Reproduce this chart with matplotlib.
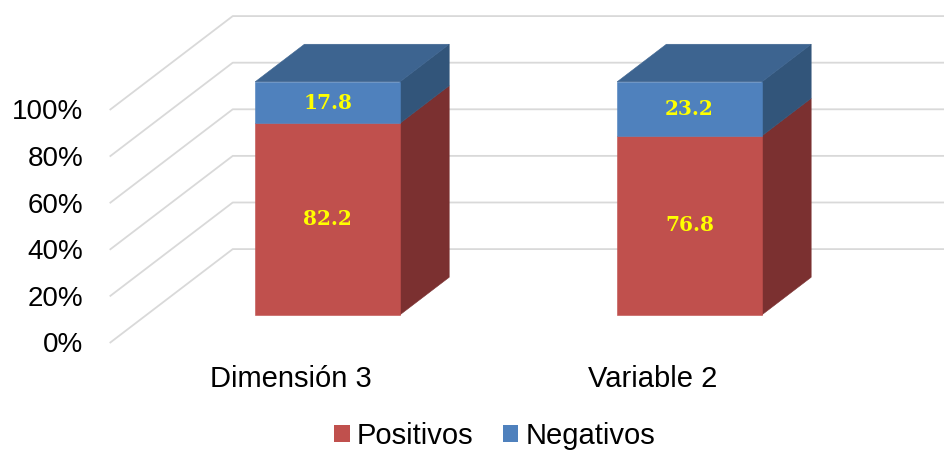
import matplotlib.pyplot as plt
from matplotlib.patches import Polygon, Patch

categories = ['Dimensión 3', 'Variable 2']
positivos = [82.2, 76.8]
negativos = [17.8, 23.2]
y_ticks = [0, 20, 40, 60, 80, 100]
series_names = ['Positivos', 'Negativos']

# colours: front, side, top
red = ('#C0504D', '#7B3030', '#8E3A38')
blue = ('#4F81BD', '#32557A', '#3D6490')

# oblique 3d projection: shift of the back wall in data units
DX, DY = 0.34, 40.3
BAR_W = 0.4
D0, D1 = 0.3, 0.7   # bar depth range

def proj(x, y, d):
    return (x + d * DX, y + d * DY)

fig = plt.figure(figsize=(9.44, 4.51), dpi=100)
ax = fig.add_axes([0, 0, 1, 1])
ax.set_xlim(-0.803, 1.805)
ax.set_ylim(-46.35, 147.2)
ax.axis('off')

# gridlines along left wall and back wall
for p in y_ticks:
    x0, y0 = proj(-0.5, p, 0)
    x1, y1 = proj(-0.5, p, 1)
    x2, y2 = proj(1.5, p, 1)
    ax.plot([x0, x1, x2], [y0, y1, y2], color='#D9D9D9', lw=1.3,
            solid_capstyle='butt', zorder=1)
    ax.text(-0.5 - 0.072, p - 1.0, f'{p}%', ha='right', va='center',
            fontsize=20, family='Liberation Sans', color='#000000')

def face(pts, color, z):
    ax.add_patch(Polygon(pts, closed=True, facecolor=color, edgecolor=color,
                         lw=0.4, zorder=z))

for i, cat in enumerate(categories):
    xl, xr = i - BAR_W / 2, i + BAR_W / 2
    segs = [(0, positivos[i], red), (positivos[i], positivos[i] + negativos[i], blue)]
    for b, t, col in segs:
        # right side face
        face([proj(xr, b, D0), proj(xr, b, D1), proj(xr, t, D1), proj(xr, t, D0)],
             col[1], 2)
        # front face
        face([proj(xl, b, D0), proj(xr, b, D0), proj(xr, t, D0), proj(xl, t, D0)],
             col[0], 3)
        cx, cy = proj(i, (b + t) / 2, D0)
        ax.text(cx, cy, f'{t - b:.1f}', ha='center', va='center', fontsize=14.5,
                family='DejaVu Serif', fontweight='bold', color='#FFFF00',
                zorder=5)
    top = positivos[i] + negativos[i]
    face([proj(xl, top, D0), proj(xr, top, D0), proj(xr, top, D1), proj(xl, top, D1)],
         blue[2], 4)
    ax.text(i, -15.5, cat, ha='center', va='center', fontsize=21,
            family='Liberation Sans', color='#000000')

handles = [Patch(facecolor=red[0]), Patch(facecolor=blue[0])]
fig.legend(handles, series_names, loc='center', bbox_to_anchor=(0.524, 0.034),
           ncol=2, frameon=False, handlelength=0.52, handleheight=0.52,
           handletextpad=0.25, columnspacing=1.0, borderpad=0.1,
           prop={'family': 'Liberation Sans', 'size': 21})

fig.savefig('out.png', dpi=100)
